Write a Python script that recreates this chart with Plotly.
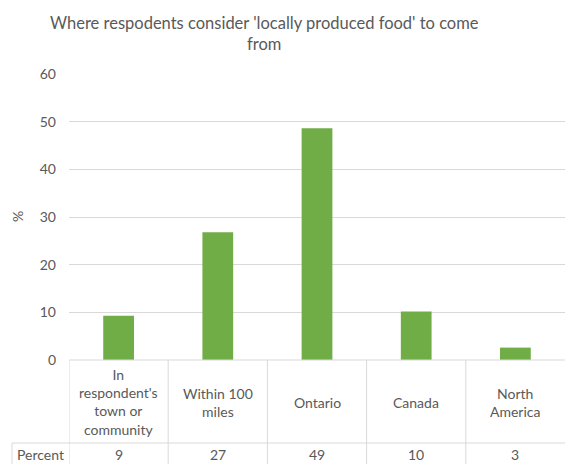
import plotly.graph_objects as go

categories = ["In<br>respondent's<br>town or<br>community", "Within 100<br>miles", "Ontario", "Canada", "North<br>America"]
percent = [9.3, 26.8, 48.6, 10.2, 2.6]
series_name = "Percent"
title_text = "Where respodents consider 'locally produced food' to come<br>from"

W, H = 565, 464
L, R, T, B = 69, 0, 74, 104
PW = W - L - R
PH = H - T - B

def py(p):  # pixel y -> paper y
    return (H - B - p) / PH

def px(p):  # pixel x -> paper x
    return (p - L) / PW

FONT = "Lato"
GREY = "#595959"
LINE = "#d9d9d9"

idx = list(range(len(categories)))
fig = go.Figure()
fig.add_trace(go.Bar(x=idx, y=percent, marker=dict(color="#70AD47", line=dict(width=0)),
                     width=0.31, name=series_name))

shapes = []
# table horizontal lines
shapes.append(dict(type="line", xref="paper", yref="paper", x0=0, x1=1, y0=py(360), y1=py(360),
                   line=dict(color=LINE, width=1)))
shapes.append(dict(type="line", xref="paper", yref="paper", x0=px(12), x1=1, y0=py(443), y1=py(443),
                   line=dict(color=LINE, width=1)))
# vertical lines
for i in idx:
    shapes.append(dict(type="line", xref="x", yref="paper", x0=i - 0.5, x1=i - 0.5, y0=py(360), y1=py(464),
                       line=dict(color=LINE, width=1)))
shapes.append(dict(type="line", xref="paper", yref="paper", x0=px(12), x1=px(12), y0=py(443), y1=py(464),
                   line=dict(color=LINE, width=1)))

annotations = []
for i, c in zip(idx, categories):
    annotations.append(dict(x=i, y=py(402), xref="x", yref="paper", text=c, showarrow=False,
                            font=dict(family=FONT, size=14, color=GREY), xanchor="center", yanchor="middle"))
for i, v in zip(idx, percent):
    annotations.append(dict(x=i, y=py(454), xref="x", yref="paper", text=str(round(v)), showarrow=False,
                            font=dict(family=FONT, size=14, color=GREY), xanchor="center", yanchor="middle"))
annotations.append(dict(x=px(40), y=py(454), xref="paper", yref="paper", text=series_name, showarrow=False,
                        font=dict(family=FONT, size=14, color=GREY), xanchor="center", yanchor="middle"))
annotations.append(dict(x=px(17), y=py(217), xref="paper", yref="paper", text="%", showarrow=False,
                        textangle=-90, font=dict(family=FONT, size=14, color=GREY),
                        xanchor="center", yanchor="middle"))
annotations.append(dict(x=px(264), y=py(33), xref="paper", yref="paper", text=title_text, showarrow=False,
                        font=dict(family=FONT, size=16.5, color=GREY), xanchor="center", yanchor="middle"))

fig.update_layout(
    width=W, height=H,
    margin=dict(l=L, r=R, t=T, b=B, pad=0),
    paper_bgcolor="white", plot_bgcolor="white",
    showlegend=False,
    xaxis=dict(range=[-0.5, len(categories) - 0.5], showticklabels=False, showgrid=False,
               zeroline=False, showline=False, ticks="", fixedrange=True),
    yaxis=dict(range=[0, 60], dtick=10, showgrid=True, gridcolor=LINE, gridwidth=1,
               zeroline=False, showline=False, ticks="", ticklabelstandoff=12,
               tickfont=dict(family=FONT, size=14, color=GREY)),
    shapes=shapes,
    annotations=annotations,
)

fig.write_html("out.html")
